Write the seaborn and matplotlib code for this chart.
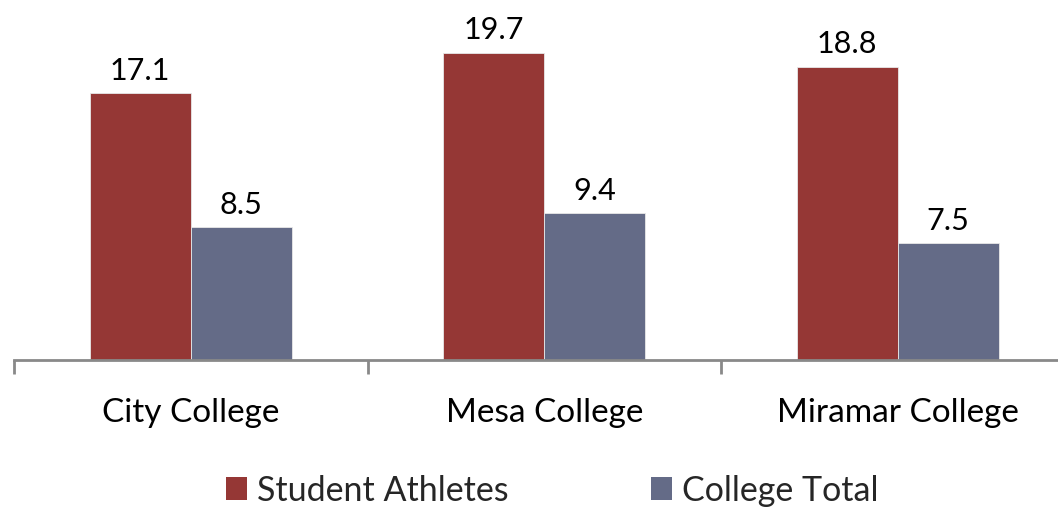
import matplotlib
matplotlib.use("Agg")
import matplotlib.pyplot as plt
import seaborn as sns
import pandas as pd
from matplotlib.patches import Patch
from matplotlib.ticker import FixedLocator

colleges = ["City College", "Mesa College", "Miramar College"]
series = ["Student Athletes", "College Total"]
student_athletes = [17.1, 19.7, 18.8]
college_total = [8.5, 9.4, 7.5]
colors = ["#953735", "#646B87"]

rows = []
for c, a, t in zip(colleges, student_athletes, college_total):
    rows.append({"college": c, "series": series[0], "value": a})
    rows.append({"college": c, "series": series[1], "value": t})
df = pd.DataFrame(rows)

sns.set_theme(style="white")
plt.rcParams["font.family"] = ["Lato", "DejaVu Sans"]

fig = plt.figure(figsize=(10.58, 5.07), dpi=100)
W, H = 1058, 507
ax = fig.add_axes([14 / W, (H - 360) / H, (1074.5 - 14) / W, 359 / H])

sns.barplot(data=df, x="college", y="value", hue="series", order=colleges,
            hue_order=series, palette=colors, width=0.572, ax=ax,
            edgecolor="#e8e8e8", linewidth=0.6, legend=False, saturation=1)

for cont in ax.containers:
    ax.bar_label(cont, fmt="%.1f", padding=6, fontsize=22, color="black")

ax.set_xlim(-0.5, 2.5)
ax.set_ylim(0, 23)
ax.set_xlabel("")
ax.set_ylabel("")
ax.set_yticks([])
for s in ["top", "right", "left"]:
    ax.spines[s].set_visible(False)
ax.spines["bottom"].set_color("#898989")
ax.spines["bottom"].set_linewidth(2)

ax.xaxis.set_minor_locator(FixedLocator([-0.5, 0.5, 1.5, 2.5]))
ax.tick_params(axis="x", which="major", length=0, labelsize=24, pad=27, colors="black")
ax.tick_params(axis="x", which="minor", length=10, width=2, color="#898989", bottom=True)

handles = [Patch(facecolor=colors[0], edgecolor="none"), Patch(facecolor=colors[1], edgecolor="none")]
fig.legend(handles, series, loc="lower center", bbox_to_anchor=(0.522, -0.06), ncol=2,
           frameon=False, fontsize=24.5, handlelength=0.6, handleheight=0.65,
           handletextpad=0.3, columnspacing=4.2)

fig.savefig("out.png", dpi=100)
